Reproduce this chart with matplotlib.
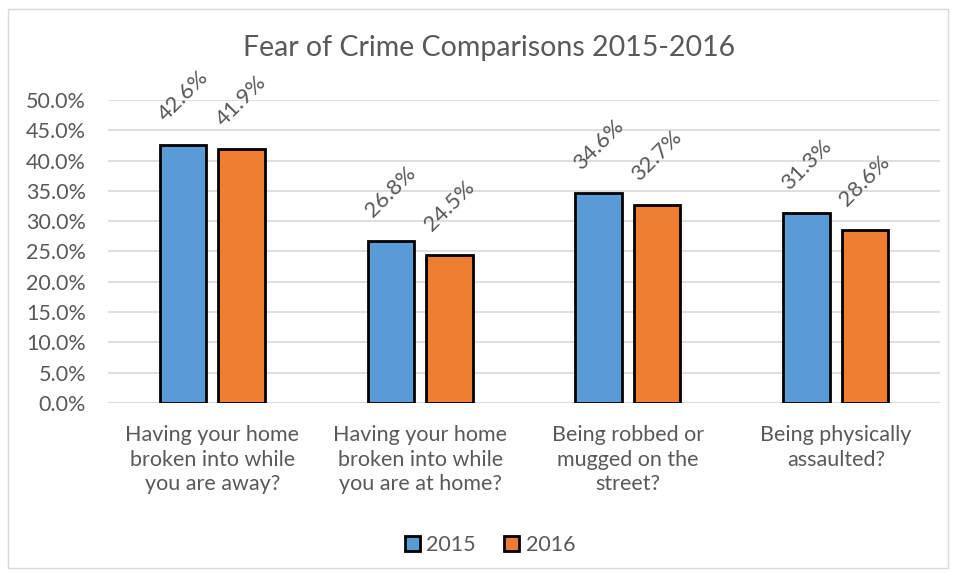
import numpy as np
import matplotlib.pyplot as plt
from matplotlib.patches import Rectangle
from matplotlib.ticker import FuncFormatter

categories = [
    "Having your home\nbroken into while\nyou are away?",
    "Having your home\nbroken into while\nyou are at home?",
    "Being robbed or\nmugged on the\nstreet?",
    "Being physically\nassaulted?",
]
vals_2015 = [42.6, 26.8, 34.6, 31.3]
vals_2016 = [41.9, 24.5, 32.7, 28.6]

plt.rcParams['font.family'] = ['Lato', 'DejaVu Sans']
grey = '#595959'

fig = plt.figure(figsize=(9.58, 5.77), dpi=100)
fig.patches.append(Rectangle((8 / 958, 9 / 577), 940 / 958, 559 / 577,
                             transform=fig.transFigure, fill=False,
                             edgecolor='#D9D9D9', linewidth=1))
ax = fig.add_axes([0.113, 0.3016, 0.868, 0.5251])

x = np.arange(len(categories))
w = 0.225
off = 0.14
b1 = ax.bar(x - off, vals_2015, w, color='#5B9BD5', edgecolor='black', linewidth=2, label='2015', zorder=3)
b2 = ax.bar(x + off, vals_2016, w, color='#ED7D31', edgecolor='black', linewidth=2, label='2016', zorder=3)

for bars, vals in ((b1, vals_2015), (b2, vals_2016)):
    for b, v in zip(bars, vals):
        ax.annotate(f"{v:.1f}%", (b.get_x() + b.get_width() / 2, v),
                    xytext=(0, 35), textcoords='offset points',
                    ha='center', va='center', rotation=45,
                    fontsize=16, color=grey)

ax.set_xlim(-0.5, len(categories) - 0.5)
ax.set_ylim(0, 50)
ax.set_yticks(np.arange(0, 50.1, 5))
ax.yaxis.set_major_formatter(FuncFormatter(lambda v, p: f"{v:.1f}%"))
ax.set_xticks(x)
ax.set_xticklabels(categories, linespacing=1.28)
ax.tick_params(axis='both', length=0, labelsize=15.5, colors=grey)
ax.tick_params(axis='x', pad=16)
ax.tick_params(axis='y', pad=16)
ax.grid(axis='y', color='#D9D9D9', linewidth=1.2, zorder=0)
for s in ax.spines.values():
    s.set_visible(False)
ax.axhline(0, color='#D9D9D9', linewidth=1.2, zorder=1)

fig.text(489 / 958, 1 - 48 / 577, "Fear of Crime Comparisons 2015-2016",
         ha='center', va='center', fontsize=20.5, color=grey)

fig.legend(handles=[b1, b2], loc='center', bbox_to_anchor=(490 / 958, 1 - 545 / 577),
           ncol=2, frameon=False, fontsize=15.5, labelcolor=grey,
           handlelength=0.7, handleheight=0.7, handletextpad=0.3, columnspacing=1.3)

fig.savefig("out.png", dpi=100)
